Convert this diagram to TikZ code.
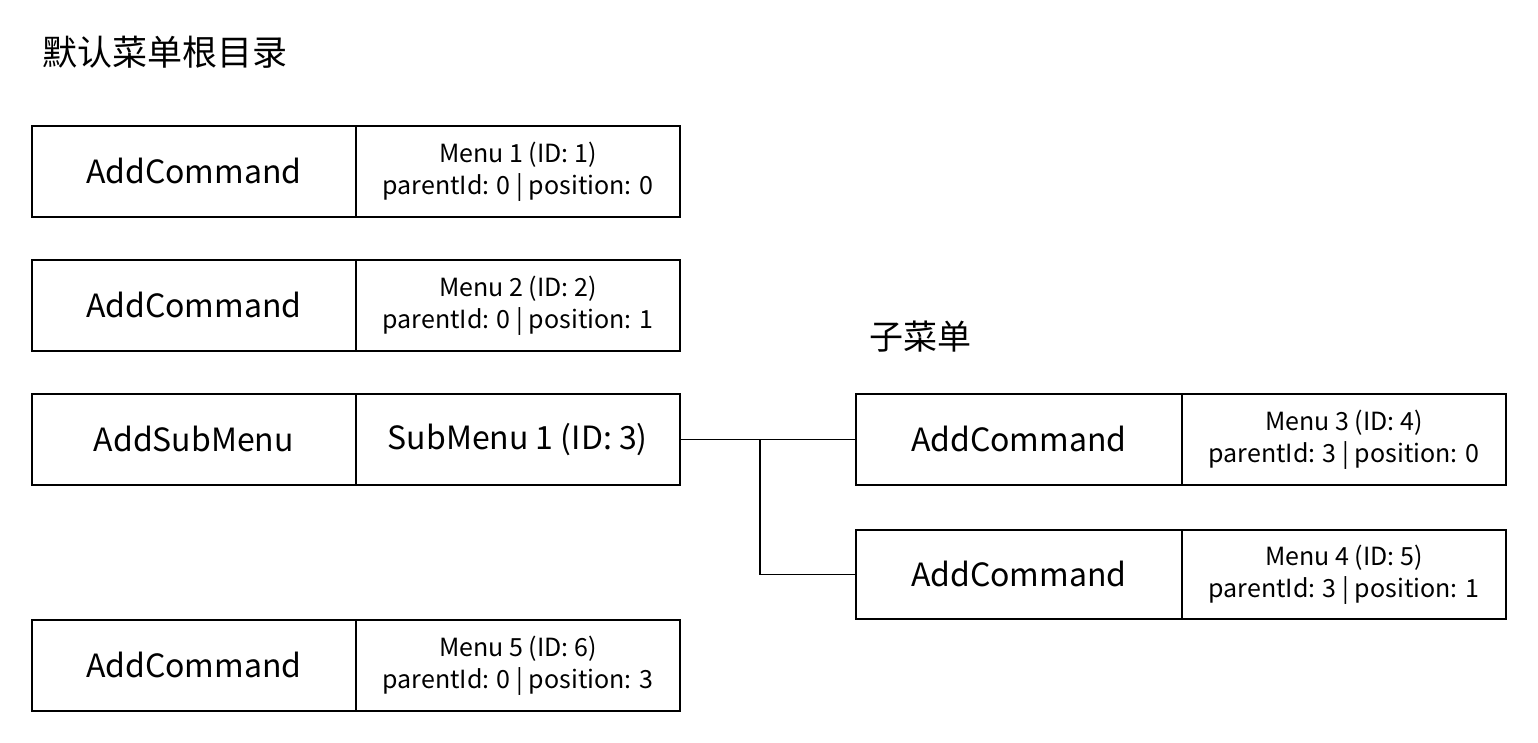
\documentclass[tikz,border=0pt]{standalone}
\usepackage{fontspec}
\setmainfont{Noto Sans CJK SC}
\begin{document}
\begin{tikzpicture}[x=1pt,y=-1pt,
  cell/.style={draw,line width=1.6pt,minimum width=324pt,minimum height=91pt,anchor=north west,inner sep=0pt,align=center},
  big/.style={font=\fontsize{32}{38}\selectfont},
  small/.style={font=\fontsize{25}{32}\selectfont},
  title/.style={font=\fontsize{35}{40}\selectfont,anchor=west,inner sep=0pt},
  conn/.style={line width=1.6pt}]
\useasboundingbox (0,0) rectangle (1538,742);
\node[title] (t1) at (42,52) {默认菜单根目录};
\node[title,font=\fontsize{34}{40}\selectfont] (t2) at (869,337) {子菜单};
% left column
\node[cell,big] (a1) at (31,125) {AddCommand};
\node[cell,small] (b1) at (355,125) {Menu 1 (ID: 1)\\parentId: 0 | position: 0};
\node[cell,big] (a2) at (31,259) {AddCommand};
\node[cell,small] (b2) at (355,259) {Menu 2 (ID: 2)\\parentId: 0 | position: 1};
\node[cell,big] (a3) at (31,393) {AddSubMenu};
\node[cell,big] (b3) at (355,393) {SubMenu 1 (ID: 3)};
\node[cell,big] (a5) at (31,619) {AddCommand};
\node[cell,small] (b5) at (355,619) {Menu 5 (ID: 6)\\parentId: 0 | position: 3};
% right column
\node[cell,big,minimum width=326pt] (c3) at (855,393) {AddCommand};
\node[cell,small,minimum width=324pt] (d3) at (1181,393) {Menu 3 (ID: 4)\\parentId: 3 | position: 0};
\node[cell,big,minimum width=326pt,minimum height=89pt] (c4) at (855,529) {AddCommand};
\node[cell,small,minimum width=324pt,minimum height=89pt] (d4) at (1181,529) {Menu 4 (ID: 5)\\parentId: 3 | position: 1};
% connectors
\coordinate (j) at (760,439);
\draw[conn] (b3.east) -- (c3.west);
\draw[conn] (j) |- (c4.west);
\end{tikzpicture}
\end{document}
